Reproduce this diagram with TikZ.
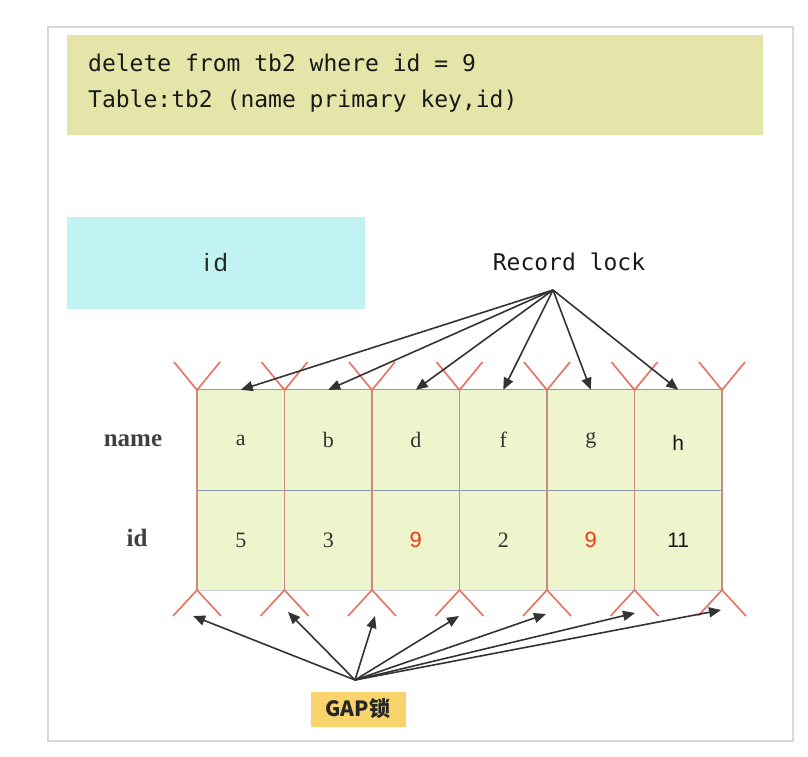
\documentclass[tikz,border=0pt]{standalone}
\usepackage{fontspec}
\setmainfont{Liberation Serif}
\newfontfamily\monof{DejaVu Sans Mono}
\newfontfamily\sansf{Liberation Sans}
\newfontfamily\cjkf{Noto Sans CJK SC}
\usetikzlibrary{arrows.meta,calc}
\definecolor{sqlfill}{RGB}{229,229,170}
\definecolor{cyanfill}{RGB}{192,243,241}
\definecolor{cellfill}{RGB}{238,245,204}
\definecolor{gapfill}{RGB}{249,212,108}
\definecolor{framecol}{RGB}{216,216,216}
\definecolor{vred}{RGB}{232,112,95}
\definecolor{divred}{RGB}{196,140,135}
\definecolor{hgrey}{RGB}{140,155,170}
\definecolor{ninered}{RGB}{232,60,20}
\tikzset{
  mono/.style={font=\monof\fontsize{23}{28}\selectfont, text=black!90, inner sep=0pt},
  cellbox/.style={minimum width=87.5pt, minimum height=100pt, inner sep=0pt, fill=cellfill},
  serifcell/.style={font=\fontsize{22}{26}\selectfont, text=black!80},
  sanscell/.style={font=\sansf\fontsize{21}{24}\selectfont, text=black!90},
  ninecell/.style={font=\sansf\fontsize{22}{24}\selectfont, text=ninered},
  rowlabel/.style={font=\fontsize{25}{30}\selectfont\bfseries, text=black!75},
  lockarrow/.style={-{Triangle[length=12pt,width=10pt]}, line width=1.6pt, draw=black!80},
  redv/.style={draw=vred, line width=1.6pt},
  divline/.style={draw=divred, line width=1.2pt},
  hline/.style={draw=hgrey, line width=1.2pt},
}
\begin{document}
\begin{tikzpicture}[x=1pt,y=-1pt]
\useasboundingbox (0,0) rectangle (808,756);
\fill[white] (0,0) rectangle (808,756);
% outer frame
\draw[framecol, line width=2pt] (48,27) rectangle (793,741);
% SQL box
\node[fill=sqlfill, minimum width=696pt, minimum height=100pt, inner sep=0pt] (sql) at (415,85) {};
\node[mono, anchor=west] (l1) at (88,63) {delete from tb2 where id = 9};
\node[mono, anchor=west] (l2) at (88,101) {Table:tb2 (name primary key,id)};
% id box
\node[fill=cyanfill, minimum width=298pt, minimum height=92pt, inner sep=0pt,
      font=\sansf\fontsize{25}{28}\selectfont, text=black!85] (idbox) at (216,263) {i\,d};
% record lock label
\node[mono] (rl) at (569,262) {Record lock};
\coordinate (rlo) at (553,290);
% row labels
\node[rowlabel] (lname) at (133,441) {name};
\node[rowlabel] (lid) at (137,538) {id};
% cells
\foreach \i/\x in {1/240.75,2/328.25,3/415.75,4/503.25,5/590.75,6/678.25}{
  \node[cellbox] (n\i) at (\x,440) {};
  \node[cellbox] (v\i) at (\x,540) {};
}
\node[serifcell] (tn1) at (n1) {a};
\node[serifcell] (tn2) at (n2) {b};
\node[serifcell] (tn3) at (n3) {d};
\node[serifcell] (tn4) at (n4) {f};
\node[serifcell] (tn5) at (n5) {g};
\node[sanscell] (tn6) at (678.25,443) {h};
\node[serifcell] (tv1) at (v1) {5};
\node[serifcell] (tv2) at (v2) {3};
\node[ninecell] (tv3) at (v3) {9};
\node[serifcell] (tv4) at (v4) {2};
\node[ninecell] (tv5) at (v5) {9};
\node[sanscell] (tv6) at (v6) {11};
% horizontal lines
\draw[hline] (n1.north west) -- (n6.north east);
\draw[hline] (n1.south west) -- (n6.south east);
\draw[hline, draw=hgrey!50] (v1.south west) -- (v6.south east);
% dividers and V marks
\foreach \j/\x in {0/197,1/284.5,2/372,3/459.5,4/547,5/634.5,6/722}{
  \coordinate (dt\j) at (\x,390);
  \coordinate (db\j) at (\x,590);
  \draw[divline] (dt\j) -- (db\j);
  \draw[redv] ($(dt\j)+(-23,-28)$) -- (dt\j) -- ($(dt\j)+(23,-28)$);
  \draw[redv] ($(db\j)+(-24,26)$) -- (db\j) -- ($(db\j)+(24,26)$);
}
% record lock arrows
\foreach \i in {1,...,6}{
  \draw[lockarrow] (rlo) -- (n\i.north);
}
% GAP label
\node[fill=gapfill, minimum width=95pt, minimum height=35pt, inner sep=0pt,
      font=\cjkf\bfseries\fontsize{21}{24}\selectfont, text=black!85] (gap) at (358,709) {GAP锁};
\coordinate (gapo) at (355,680);
\coordinate (g0) at (193,616);
\coordinate (g1) at (288,612);
\coordinate (g2) at (375,616);
\coordinate (g3) at (459,616);
\coordinate (g4) at (546,614);
\coordinate (g5) at (635,613);
\coordinate (g6) at (721,610);
\foreach \j in {0,...,6}{
  \draw[lockarrow] (gapo) -- (g\j);
}
\end{tikzpicture}
\end{document}
